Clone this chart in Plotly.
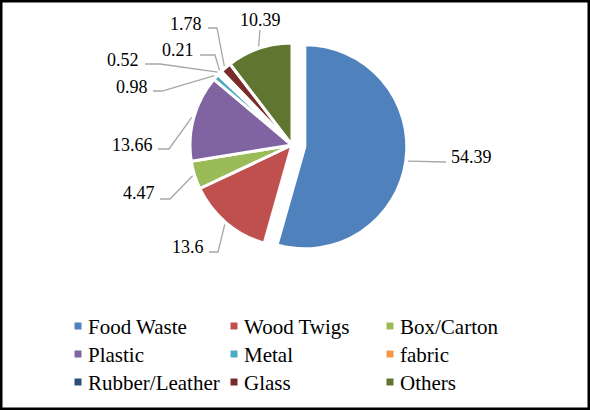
import numpy as np
import plotly.graph_objects as go

categories = ["Food Waste", "Wood Twigs", "Box/Carton", "Plastic", "Metal",
              "fabric", "Rubber/Leather", "Glass", "Others"]
shares = [54.39, 13.6, 4.47, 13.66, 0.98, 0.52, 0.21, 1.78, 10.39]
label_text = ["54.39", "13.6", "4.47", "13.66", "0.98", "0.52", "0.21", "1.78", "10.39"]
colors = ["#4F81BD", "#C0504D", "#9BBB59", "#8064A2", "#4BACC6",
          "#F79646", "#2C4D75", "#772C2A", "#5F7530"]
pulls = [0.127, 0, 0, 0, 0, 0, 0, 0, 0]

W, H = 590, 410
cx, cy, R = 292, 145, 102   # pie centre / radius in pixels
FONT = "Liberation Serif"

# leader line elbow, tail end, text point, text anchor (pixels)
label_spots = [
    ((446, 162), (446, 162), (449, 157), "left"),
    ((218, 252), (209, 252), (206, 247), "right"),
    ((170, 199), (160, 199), (157, 193), "right"),
    ((169, 149), (158, 149), (155, 145), "right"),
    ((162, 91), (153, 91), (150, 87), "right"),
    ((160, 64), (145, 64), (141, 60), "right"),
    ((215, 55), (200, 55), (196, 50), "right"),
    ((217, 28), (208, 28), (204, 24), "right"),
    ((260, 30), (260, 30), (260, 20), "center"),
]

side = 2 * R * (1 + max(pulls))
fig = go.Figure()
fig.add_trace(go.Pie(
    labels=categories, values=shares, sort=False, direction="clockwise",
    rotation=0, pull=pulls, textinfo="none",
    marker=dict(colors=colors, line=dict(color="white", width=3)),
    domain=dict(x=[(cx - side / 2) / W, (cx + side / 2) / W],
                y=[1 - (cy + side / 2) / H, 1 - (cy - side / 2) / H]),
    showlegend=False,
))

# leader lines start on the slice edge at the slice mid angle
total = sum(shares)
cum = np.cumsum([0] + shares[:-1])
lx, ly = [], []
for i, v in enumerate(shares):
    ang = np.radians((cum[i] + v / 2) / total * 360)
    ox = cx + pulls[i] * R * np.sin(ang)
    oy = cy - pulls[i] * R * np.cos(ang)
    sx = ox + (R + 2) * np.sin(ang)
    sy = oy - (R + 2) * np.cos(ang)
    elbow, tail, txt, anchor = label_spots[i]
    lx += [sx, elbow[0], tail[0], None]
    ly += [sy, elbow[1], tail[1], None]
    fig.add_annotation(x=txt[0], y=txt[1], text=label_text[i], showarrow=False,
                       xanchor=anchor, yanchor="middle",
                       font=dict(family=FONT, size=18, color="black"))
fig.add_trace(go.Scatter(x=lx, y=ly, mode="lines", hoverinfo="skip",
                         line=dict(color="#A6A6A6", width=1.3), showlegend=False))

# legend, 3 columns
leg_x = [78 + 156 * (i % 3) for i in range(len(categories))]
leg_y = [326 + 28 * (i // 3) for i in range(len(categories))]
fig.add_trace(go.Scatter(x=leg_x, y=leg_y, mode="markers", hoverinfo="skip",
                         marker=dict(symbol="square", size=7, color=colors),
                         showlegend=False))
for i, name in enumerate(categories):
    fig.add_annotation(x=leg_x[i] + 8, y=leg_y[i] + 1, text=name, showarrow=False,
                       xanchor="left", yanchor="middle",
                       font=dict(family=FONT, size=21, color="black"))

fig.add_shape(type="rect", xref="paper", yref="paper", x0=0, y0=0, x1=1, y1=1,
              line=dict(color="black", width=5))

fig.update_layout(
    width=W, height=H, margin=dict(l=0, r=0, t=0, b=0),
    paper_bgcolor="white", plot_bgcolor="white",
    xaxis=dict(range=[0, W], visible=False, fixedrange=True),
    yaxis=dict(range=[H, 0], visible=False, fixedrange=True),
)
fig.write_html("out.html", config={"displayModeBar": False},
               post_script="document.body.style.margin='0';")
